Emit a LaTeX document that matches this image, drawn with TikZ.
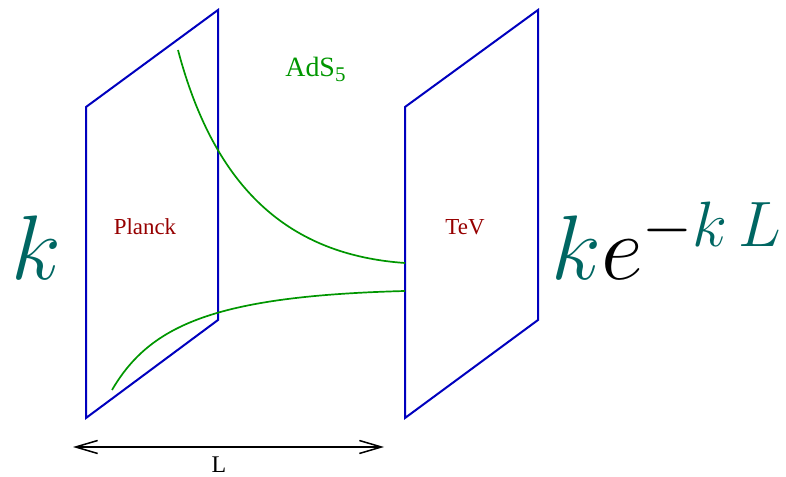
\RequirePackage{fix-cm}
\documentclass[tikz,border=0pt]{standalone}
\usepackage{fontspec}
\newfontfamily\labelfont{Liberation Serif}
\usetikzlibrary{arrows.meta}
\definecolor{braneblue}{RGB}{0,0,190}
\definecolor{bulkgreen}{RGB}{0,150,0}
\definecolor{branered}{RGB}{150,0,0}
\definecolor{warpteal}{RGB}{0,102,98}
\tikzset{
  >={Straight Barb[length=11bp,width=6.5bp]},
  plane/.style={draw=braneblue,line width=1bp,line join=miter},
  warpline/.style={draw=bulkgreen,line width=0.85bp},
  branetag/.style={text=branered,font=\labelfont\fontsize{11.5}{13}\selectfont,anchor=base,inner sep=0pt},
  bigmath/.style={text=warpteal,font=\fontsize{46}{50}\selectfont,anchor=base west,inner sep=0pt},
}
\begin{document}
\begin{tikzpicture}[x=0.5bp,y=-0.5bp]
  \useasboundingbox (0,0) rectangle (786,477);
  % the two branes
  \draw[plane] (86,418) -- (86,107) -- (218,10) -- (218,320) -- cycle;
  \draw[plane] (405,418) -- (405,107) -- (538,10) -- (538,320) -- cycle;
  % bulk profile
  \draw[warpline] (178,50) .. controls (215,190) and (290,255) .. (405,263);
  \draw[warpline] (112,390) .. controls (150,325) and (215,296) .. (405,291);
  % labels
  \node[branetag] (planck) at (145,235) {Planck};
  \node[branetag] (tev) at (465,235) {TeV};
  \node[text=bulkgreen,font=\labelfont\fontsize{14}{16}\selectfont,anchor=base west,inner sep=0pt] (ads) at (285,77) {AdS\raisebox{-2.5bp}{\fontsize{10.5}{12}\selectfont 5}};
  \node[bigmath] (kplanck) at (11,280) {$k$};
  \node[bigmath] (ktev) at (551,280) {$k\textcolor{black}{e^{-\textcolor{warpteal}{k\,L}}}$};
  % separation
  \coordinate (lstart) at (73,447);
  \coordinate (lend) at (384,447);
  \draw[<->,line width=0.75bp] (lstart) -- (lend);
  \node[font=\labelfont\fontsize{12}{14}\selectfont,anchor=base,inner sep=0pt] (len) at (219,473) {L};
\end{tikzpicture}
\end{document}
